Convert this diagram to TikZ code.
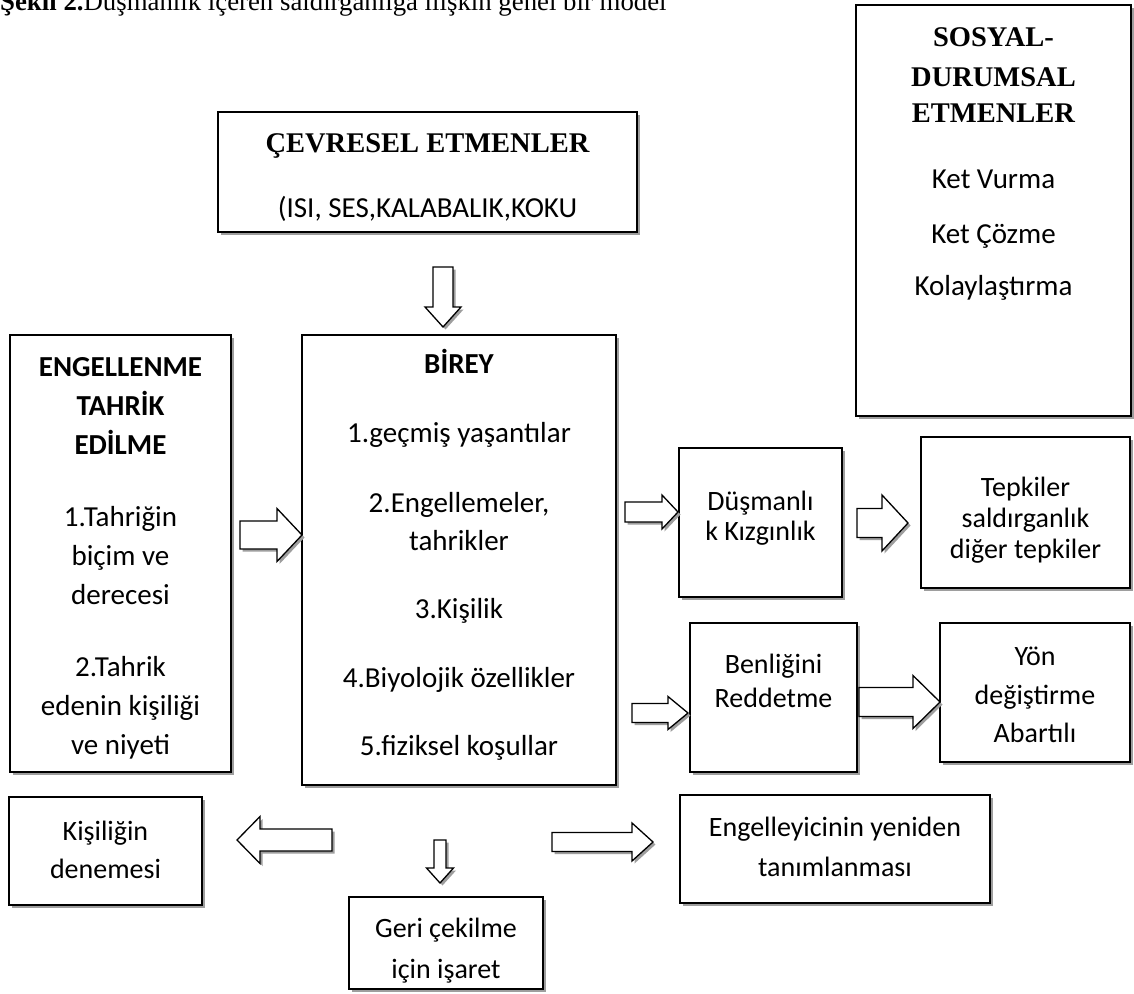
\documentclass[tikz,border=0pt]{standalone}
\usepackage{fontspec}
\setmainfont{Carlito}
\newfontfamily\tnr{Liberation Serif}
\usetikzlibrary{shadows}
\definecolor{shd}{gray}{0.62}
\tikzset{
  box/.style={draw=black, line width=1.6pt, fill=white, inner sep=0pt, outer sep=0pt,
    drop shadow={shadow xshift=3pt, shadow yshift=-3pt, opacity=1, fill=shd}},
  txt/.style={inner sep=0pt, anchor=base, font=\fontsize{29}{34}\selectfont},
  stxt/.style={inner sep=0pt, anchor=base, font=\fontsize{28}{34}\selectfont},
  btxt/.style={inner sep=0pt, anchor=base, font=\fontsize{29}{34}\selectfont\bfseries},
  ttl/.style={inner sep=0pt, anchor=base, font=\fontsize{28.5}{34}\selectfont\tnr\bfseries},
  barrow/.style={draw=black, line width=1.3pt, fill=white, line join=miter},
}
% horizontal block arrow: tail x, head-base x, tip x, centre y, shaft half, head half
\newcommand{\harrow}[6]{%
  \fill[shd, shift={(2.5,2.5)}] (#1,#4-#5) -- (#2,#4-#5) -- (#2,#4-#6) -- (#3,#4) -- (#2,#4+#6) -- (#2,#4+#5) -- (#1,#4+#5) -- cycle;
  \draw[barrow] (#1,#4-#5) -- (#2,#4-#5) -- (#2,#4-#6) -- (#3,#4) -- (#2,#4+#6) -- (#2,#4+#5) -- (#1,#4+#5) -- cycle;}
% vertical block arrow: centre x, tail y, head-base y, tip y, shaft half, head half
\newcommand{\varrow}[6]{%
  \fill[shd, shift={(2.5,2.5)}] (#1-#5,#2) -- (#1-#5,#3) -- (#1-#6,#3) -- (#1,#4) -- (#1+#6,#3) -- (#1+#5,#3) -- (#1+#5,#2) -- cycle;
  \draw[barrow] (#1-#5,#2) -- (#1-#5,#3) -- (#1-#6,#3) -- (#1,#4) -- (#1+#6,#3) -- (#1+#5,#3) -- (#1+#5,#2) -- cycle;}
\begin{document}
\begin{tikzpicture}[x=1pt,y=-1pt]
\useasboundingbox (0,0) rectangle (1134,993);
\fill[white] (0,0) rectangle (1134,993);

% title (cut at the top edge, as in the reference)
\node[anchor=base west, inner sep=0pt, font=\fontsize{26.8}{30}\selectfont\tnr] (title) at (0,10)
  {\textbf{Şekil 2.}Düşmanlık içeren saldırganlığa ilişkin genel bir model};

% boxes
\node[box, minimum width=275pt, minimum height=411pt] (sosyal) at (993.5,210.5) {};
\node[box, minimum width=419pt, minimum height=120pt] (cevre) at (427.5,172) {};
\node[box, minimum width=314pt, minimum height=450pt] (birey) at (459,560) {};
\node[box, minimum width=221pt, minimum height=437pt] (engel) at (120.5,553.5) {};
\node[box, minimum width=163pt, minimum height=149pt] (dusman) at (760.5,522.5) {};
\node[box, minimum width=209pt, minimum height=151pt] (tepki) at (1025.5,512.5) {};
\node[box, minimum width=167pt, minimum height=149pt] (benlik) at (773.5,697.5) {};
\node[box, minimum width=190pt, minimum height=139pt] (yon) at (1035,692.5) {};
\node[box, minimum width=310pt, minimum height=108pt] (engelley) at (835,849) {};
\node[box, minimum width=193pt, minimum height=108pt] (kisilik) at (105.5,851) {};
\node[box, minimum width=194pt, minimum height=92pt] (geri) at (446,943) {};

% texts: SOSYAL
\node[ttl] (s1) at (993.5,46) {SOSYAL-};
\node[ttl] (s2) at (993.5,86) {DURUMSAL};
\node[ttl] (s3) at (993.5,122) {ETMENLER};
\node[txt] (s4) at (993.5,188) {Ket Vurma};
\node[txt] (s5) at (993.5,243) {Ket Çözme};
\node[txt] (s6) at (993.5,295) {Kolaylaştırma};

% CEVRESEL
\node[ttl] (c1) at (427.5,152) {ÇEVRESEL ETMENLER};
\node[txt] (c2) at (427.5,217) {(ISI, SES,KALABALIK,KOKU};

% BIREY
\node[btxt] (b0) at (459,373) {BİREY};
\node[txt] (b1) at (459,442) {1.geçmiş yaşantılar};
\node[txt] (b2) at (459,512) {2.Engellemeler,};
\node[txt] (b3) at (459,550) {tahrikler};
\node[txt] (b4) at (459,618) {3.Kişilik};
\node[txt] (b5) at (459,687) {4.Biyolojik özellikler};
\node[txt] (b6) at (459,755) {5.fiziksel koşullar};

% ENGELLENME
\node[btxt] (e1) at (120.5,376) {ENGELLENME};
\node[btxt] (e2) at (120.5,415) {TAHRİK};
\node[btxt] (e3) at (120.5,454) {EDİLME};
\node[txt] (e4) at (120.5,526) {1.Tahriğin};
\node[txt] (e5) at (120.5,565) {biçim ve};
\node[txt] (e6) at (120.5,604) {derecesi};
\node[txt] (e7) at (120.5,676) {2.Tahrik};
\node[txt] (e8) at (120.5,715) {edenin kişiliği};
\node[txt] (e9) at (120.5,754) {ve niyeti};

% small boxes
\node[stxt] (d1) at (760.5,510) {Düşmanlı};
\node[stxt] (d2) at (760.5,540) {k Kızgınlık};
\node[stxt] (t1) at (1025.5,496) {Tepkiler};
\node[stxt] (t2) at (1025.5,527) {saldırganlık};
\node[stxt] (t3) at (1025.5,558) {diğer tepkiler};
\node[stxt] (r1) at (773.5,673) {Benliğini};
\node[stxt] (r2) at (773.5,707) {Reddetme};
\node[stxt] (y1) at (1035,665) {Yön};
\node[stxt] (y2) at (1035,704) {değiştirme};
\node[stxt] (y3) at (1035,742) {Abartılı};
\node[stxt] (g1) at (835,836) {Engelleyicinin yeniden};
\node[stxt] (g2) at (835,876) {tanımlanması};
\node[stxt] (k1) at (105.5,840) {Kişiliğin};
\node[stxt] (k2) at (105.5,878) {denemesi};
\node[stxt] (h1) at (446,937) {Geri çekilme};
\node[stxt] (h2) at (446,978) {için işaret};

% block arrows
\varrow{443}{267}{307}{327}{10}{18}
\harrow{240}{277}{302}{535}{14}{26.5}
\harrow{625}{662}{678}{512}{10}{17}
\harrow{857}{882}{908}{523}{14.5}{28}
\harrow{632}{668}{688}{713}{9.5}{16.5}
\harrow{859}{913}{940}{702}{14.5}{26.5}
\harrow{332}{260}{237}{840}{11}{23.5}
\varrow{440}{840}{868}{883}{6}{13.5}
\harrow{552}{632}{653}{842}{9.5}{19}
\end{tikzpicture}
\end{document}
